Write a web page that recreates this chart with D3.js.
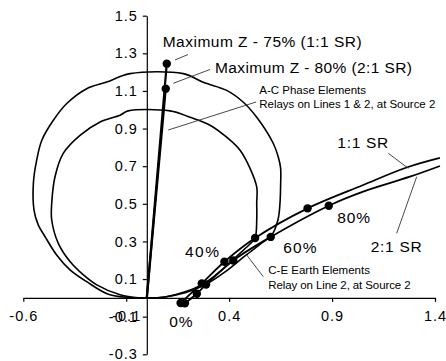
<!DOCTYPE html>
<html>
<head>
<meta charset="utf-8">
<script src="https://cdn.jsdelivr.net/npm/d3@7"></script>
<style>
  html, body { margin: 0; padding: 0; background: #fff; }
  svg { display: block; }
  text { font-family: "Liberation Sans", Arial, sans-serif; fill: #000; }
</style>
</head>
<body>
<svg id="chart" width="446" height="361"></svg>
<script>
// ---- axes ----
const xTicks = [-0.6, -0.1, 0.4, 0.9, 1.4];
const xTickLabels = ["-0.6", "-0.1", "0.4", "0.9", "1.4"];
const yTicks = [-0.3, -0.1, 0.1, 0.3, 0.5, 0.7, 0.9, 1.1, 1.3, 1.5];
const yTickLabels = ["-0.3", "-0.1", "0.1", "0.3", "0.5", "0.7", "0.9", "1.1", "1.3", "1.5"];

// ---- A-C phase mho characteristics (R, X) ----
const mhoOuter = [
  [0.000, 0.000], [0.088, 0.005], [0.186, 0.027], [0.283, 0.069], [0.380, 0.138],
  [0.477, 0.223], [0.559, 0.292], [0.607, 0.334], [0.637, 0.414], [0.647, 0.504],
  [0.650, 0.599], [0.650, 0.690], [0.639, 0.748], [0.614, 0.822], [0.534, 0.960],
  [0.469, 1.040], [0.388, 1.103], [0.274, 1.146], [0.177, 1.192], [-0.082, 1.192],
  [-0.195, 1.147], [-0.292, 1.112], [-0.389, 1.033], [-0.454, 0.944], [-0.510, 0.838],
  [-0.535, 0.732], [-0.551, 0.610], [-0.548, 0.467], [-0.527, 0.387], [-0.494, 0.325],
  [-0.438, 0.228], [-0.373, 0.149], [-0.292, 0.086], [-0.179, 0.016], [-0.041, 0.000],
  [0.000, 0.000]
];
const mhoInner = [
  [0.000, 0.000], [0.088, 0.005], [0.186, 0.032], [0.283, 0.080], [0.365, 0.149],
  [0.443, 0.228], [0.501, 0.286], [0.526, 0.318], [0.534, 0.414], [0.534, 0.504],
  [0.534, 0.589], [0.501, 0.690], [0.453, 0.785], [0.388, 0.854], [0.307, 0.918],
  [0.210, 0.960], [0.113, 0.994], [-0.091, 0.994], [-0.130, 0.971], [-0.227, 0.935],
  [-0.323, 0.865], [-0.406, 0.768], [-0.446, 0.644], [-0.462, 0.502], [-0.462, 0.414],
  [-0.430, 0.290], [-0.373, 0.193], [-0.308, 0.122], [-0.243, 0.069], [-0.130, 0.016],
  [-0.041, 0.000], [0.000, 0.000]
];

// ---- A-C phase maximum apparent impedance ----
const maxZ11 = [[0.000, 0.000], [0.097, 1.245]];   // 75%, 1:1 SR
const maxZ21 = [[0.000, 0.000], [0.092, 1.112]];   // 80%, 2:1 SR

// ---- C-E earth element loci, fault position in % of line ----
const earthPct11 = [0, 20, 40, 60, 80];
const earth11 = [[0.164, -0.027], [0.267, 0.077], [0.377, 0.192], [0.526, 0.318], [0.781, 0.476]];
const earthTail11 = [[1.051, 0.600], [1.262, 0.693], [1.424, 0.744]];

const earthPct21 = [0, 10, 20, 40, 60, 80];
const earth21 = [[0.185, -0.029], [0.243, 0.022], [0.288, 0.071], [0.420, 0.199], [0.602, 0.324], [0.884, 0.490]];
const earthTail21 = [[1.051, 0.565], [1.278, 0.644], [1.424, 0.701]];

// ---- drawing ----
const svg = d3.select("#chart");
const x = d3.scaleLinear().domain([-0.6, 1.4]).range([23.3, 435]);
const y = d3.scaleLinear().domain([-0.3, 1.5]).range([354.3, 15.7]);

const xAxis = d3.axisBottom(x)
  .tickValues(xTicks)
  .tickFormat((d, i) => xTickLabels[i])
  .tickSizeInner(4).tickSizeOuter(0).tickPadding(9);
const yAxis = d3.axisLeft(y)
  .tickValues(yTicks)
  .tickFormat((d, i) => yTickLabels[i])
  .tickSizeInner(4).tickSizeOuter(0).tickPadding(5);

function styleAxis(g) {
  g.select(".domain").attr("stroke", "#000").attr("stroke-width", 1.2);
  g.selectAll(".tick line").attr("stroke", "#000").attr("stroke-width", 1.2);
  g.selectAll(".tick text")
    .attr("font-family", "Liberation Sans, Arial, sans-serif")
    .attr("font-size", 14.5)
    .attr("letter-spacing", 1)
    .attr("fill", "#000");
}

svg.append("g").attr("transform", `translate(0,${y(0)})`).call(xAxis).call(styleAxis);
svg.append("g").attr("transform", `translate(${x(0)},0)`).call(yAxis).call(styleAxis);

const line = d3.line().x(d => x(d[0])).y(d => y(d[1]));
const smooth = d3.line().x(d => x(d[0])).y(d => y(d[1])).curve(d3.curveCatmullRom.alpha(0.5));

// characteristics
[mhoOuter, mhoInner].forEach(pts => {
  svg.append("path").attr("d", smooth(pts))
    .attr("fill", "none").attr("stroke", "#000").attr("stroke-width", 1.6)
    .attr("stroke-linejoin", "round");
});

// earth loci
[[earth11, earthTail11], [earth21, earthTail21]].forEach(([pts, tail]) => {
  svg.append("path").attr("d", smooth(pts.concat(tail)))
    .attr("fill", "none").attr("stroke", "#000").attr("stroke-width", 1.8)
    .attr("stroke-linejoin", "round");
});

// maximum impedance lines
[maxZ11, maxZ21].forEach(pts => {
  svg.append("path").attr("d", line(pts))
    .attr("fill", "none").attr("stroke", "#000").attr("stroke-width", 2.2);
});

// markers
const markers = earth11.concat(earth21, [maxZ11[1], maxZ21[1]]);
svg.append("g").selectAll("circle").data(markers).join("circle")
  .attr("cx", d => x(d[0])).attr("cy", d => y(d[1])).attr("r", 4.2)
  .attr("fill", "#000");

// annotation leader lines
const leaders = [
  [175, 60, 188, 54.5],
  [173.3, 83.3, 210, 69.5],
  [168.3, 130, 256, 102],
  [388.3, 153.3, 408.3, 168.3],
  [396.7, 233.3, 416.7, 176.7],
  [263.3, 276.7, 246.7, 255]
];
svg.append("g").selectAll("line").data(leaders).join("line")
  .attr("x1", d => d[0]).attr("y1", d => d[1]).attr("x2", d => d[2]).attr("y2", d => d[3])
  .attr("stroke", "#333").attr("stroke-width", 0.9);

// annotation text
const notes = [
  { t: "Maximum Z - 75% (1:1 SR)", x: 162.7, y: 47, s: 15.5, w: 199 },
  { t: "Maximum Z - 80% (2:1 SR)", x: 215, y: 73, s: 15.5, w: 197 },
  { t: "A-C Phase Elements", x: 259.3, y: 93.5, s: 11.5, c: "#333" },
  { t: "Relays on Lines 1 & 2, at Source 2", x: 259.3, y: 107.5, s: 11.5, w: 176, c: "#333" },
  { t: "1:1 SR", x: 337.3, y: 147.7, s: 15.5, w: 51 },
  { t: "2:1 SR", x: 370.7, y: 251.7, s: 15.5, w: 51 },
  { t: "80%", x: 337.3, y: 223.3, s: 15.5, w: 32.7 },
  { t: "60%", x: 283.3, y: 253.3, s: 15.5, w: 33.3 },
  { t: "40%", x: 185, y: 257.3, s: 15.5, w: 34 },
  { t: "0%", x: 169.3, y: 326.7, s: 15.5, w: 23.3 },
  { t: "C-E Earth Elements", x: 268.3, y: 274.3, s: 11.5, c: "#333" },
  { t: "Relay on Line 2, at Source 2", x: 268.3, y: 289.3, s: 11.5, w: 142.3, c: "#333" }
];
notes.forEach(n => {
  const el = svg.append("text").attr("x", n.x).attr("y", n.y)
    .attr("font-size", n.s).attr("fill", n.c || "#000").text(n.t);
  if (n.w) el.attr("textLength", n.w).attr("lengthAdjust", "spacing");
});
</script>
</body>
</html>
